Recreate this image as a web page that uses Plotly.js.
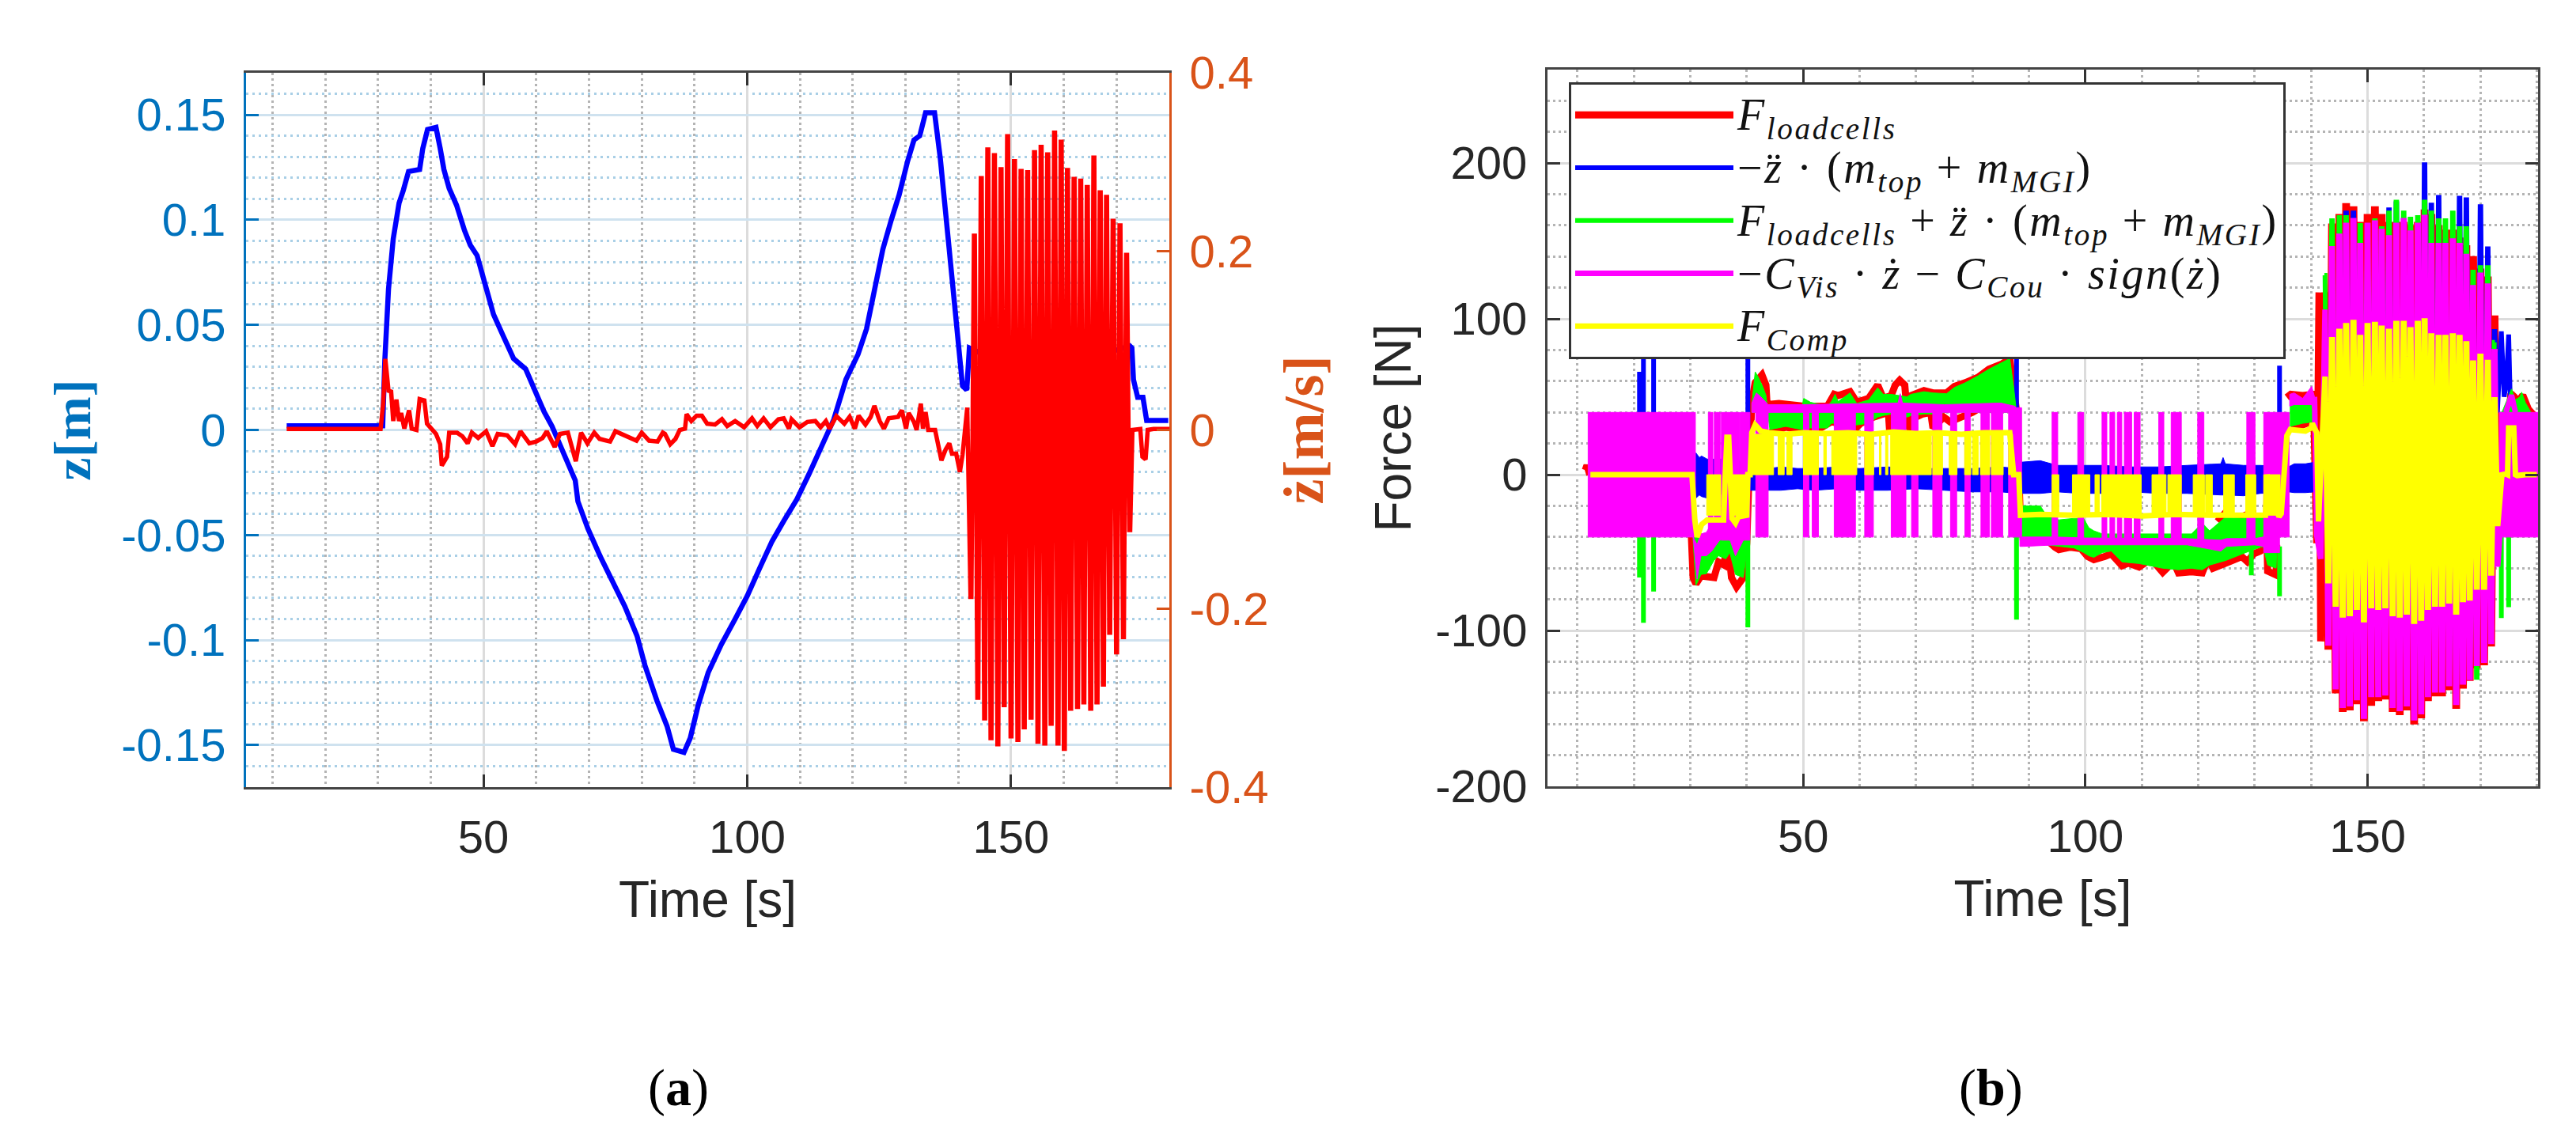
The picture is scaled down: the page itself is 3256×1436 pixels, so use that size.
<!DOCTYPE html>
<html><head><meta charset="utf-8">
<script src="https://cdn.plot.ly/plotly-3.0.1.min.js"></script>
<style>html,body{margin:0;padding:0;background:#fff}#chart{width:3256px;height:1436px}
.legendtext{font-size:56px !important;letter-spacing:2.6px}</style></head>
<body><div id="chart"></div>
<script>
// ---------- panel (a): position ----------
const posT=[12.7,30.9,31.3,32,32.9,34,34.8,35.8,37.9,38.5,39.4,41,41.8,42.5,43.5,44.9,46.4,47.5,48.8,50.3,51.9,53.7,55.7,58,59.6,61.5,63,65.1,67.4,67.9,69.8,72.1,74.4,76.8,79.1,80.6,82.9,84.8,86,88,89.2,90.7,92.6,95.1,97.7,100,102.4,104.7,107,109.4,111.7,114,116.4,118.7,121,122.6,124.2,125.7,127.3,128.8,130.4,131.6,132.7,133.8,135.5,136.6,138.2,139.7,140.8,141.6,142.1,150,160,172.5,172.9,173.2,174,175,175.7,179.8];
const posZ=[.002,.002,.033,.067,.091,.108,.114,.123,.124,.134,.143,.144,.134,.124,.115,.107,.095,.088,.083,.069,.055,.045,.034,.029,.019,.0086,.0017,-.01,-.024,-.034,-.047,-.06,-.072,-.084,-.098,-.112,-.129,-.141,-.152,-.1535,-.1466,-.131,-.1155,-.102,-.09,-.079,-.0655,-.053,-.043,-.033,-.021,-.0086,.005,.024,.036,.048,.069,.086,.1,.112,.128,.138,.14,.151,.151,.129,.088,.047,.021,.019,.039,.03,.03,.04,.039,.024,.0155,.0155,.0045,.0045];
// ---------- panel (a): velocity, slow parts ----------
const velBeforeT=[12.7,30.5,31,31.4,32,32.5,32.9,33.5,34,34.4,35,35.9,36.4,37.3,37.9,38.8,39.3,40,41,41.8,42.1,43.1,43.5,45,46,47,47.8,49,50.5,51.7,52.7,54.5,56,57,57.7,58.7,60,61.2,62,63.5,64.5,66,67.5,68.5,69.7,71,72,74,75,77,79,80,81.4,83,84,84.4,85.4,86.4,87.2,88.2,88.5,89.4,90.4,91.4,92.4,93.9,95.2,96.2,97.7,99.4,100.9,101.9,103.1,104.4,105.9,106.9,107.9,108.4,109.9,111.4,112.9,113.9,114.9,115.6,116.9,118.4,119.4,120.4,121.1,122.4,123.4,124.1,125.1,125.9,126.8,128.6,129.3,130.1,130.6,131.6,132.1,132.9,133.3,133.8,134.3,135.6,136.8,137.6,138.3,138.8,139.6,140.3,140.8,141.3,141.7];
const velBeforeV=[.001,.001,.03,.0796,.044,.043,.01,.034,.01,.019,.0015,.022,.0015,0,.0345,.033,.007,.0015,-.0044,-.016,-.04,-.03,-.003,-.003,-.007,-.015,-.003,-.009,-.0015,-.018,-.0044,-.006,-.016,-.0015,-.007,-.015,-.013,-.009,-.0015,-.019,-.0044,-.003,-.035,-.003,-.015,-.003,-.01,-.013,-.0015,-.007,-.012,-.003,-.012,-.013,-.003,-.0044,-.016,-.01,0,.0015,.0177,.01,.016,.016,.007,.006,.012,.0044,.01,.003,.013,.0044,.013,.003,.012,.013,.0015,.012,.003,.009,.01,.003,.01,.0015,.0156,.007,.0147,.0015,.016,.006,.0147,.027,.01,.0015,.013,.0147,.022,.0015,.019,.009,0,.0295,.0015,.02,0,0,-.034,-.022,-.015,-.0265,-.0265,-.047,-.028,.0015,.025];
const velAfterT=[173,174.5,174.9,175.5,175.9,177,180];
const velAfterV=[0,.001,-.03,-.033,0,.001,.001];
// panel (a): velocity oscillation extremes
const oscTroughT=[142.4,143.7,145,146.2,147.5,148.7,150,151.3,152.5,153.8,155.1,156.4,157.6,158.9,160.1,161.3,162.6,163.8,165.1,166.3,167.5,168.7,170,171.3,172.5];
const oscTroughV=[-.187,-.3,-.323,-.345,-.352,-.308,-.343,-.347,-.333,-.322,-.349,-.351,-.329,-.351,-.357,-.312,-.31,-.305,-.312,-.305,-.285,-.227,-.249,-.232,-.112];
const oscPeakT=[143.05,144.35,145.6,146.85,148.1,149.35,150.65,151.9,153.15,154.45,155.7,156.95,158.25,159.5,160.7,161.95,163.2,164.45,165.7,166.9,168.1,169.35,170.65,171.9];
const oscPeakV=[.2176,.282,.314,.3076,.292,.329,.301,.29,.2886,.311,.317,.3085,.333,.3226,.291,.281,.279,.272,.305,.266,.261,.234,.229,.196];
// ---------- panel (b): burst extremes (same instants as the oscillation) ----------
const redBurstTop=[117,159,165,172,170,160,165,170,165,160,160,160,158,160,168,165,158,155,155,150,145,138,130,125,100];
const redBurstBot=[-110,-138,-150,-149,-145,-156,-146,-143,-142,-150,-152,-149,-158,-154,-143,-140,-140,-136,-148,-135,-130,-122,-120,-108];
const blueBurstTop=[70,120,130,168,168,140,140,150,140,170,174,150,150,150,199,173,178,150,150,177.5,176.5,120,172,145,92];
const blueBurstBot=[-74,-100,-120,-125,-120,-130,-120,-118,-118,-125,-125,-122,-130,-128,-118,-115,-115,-112,-120,-110,-108,-105,-100,-90];
const greenBurstTop=[128,163,165,165,150,160,150,163,158,168,175,168,164,165,175,168,163,163,168,158,158,130,133,133,85];
const greenBurstBot=[-105,-130,-140,-140,-138,-148,-136,-135,-135,-142,-145,-140,-150,-146,-136,-132,-132,-128,-140,-128,-128,-130,-112,-100];
const magBurstTop=[106,145,153,160,163,147,160,161.5,156,152,160,163,155,160,165,147,147,147,150,147,140,120,128,121,79];
const magBurstBot=[-108,-136,-148,-147,-143,-155,-141,-141,-140,-148,-150,-147,-156,-152,-141,-138,-138,-134,-146,-133,-130,-121,-119,-107];
const yelBurstTop=[63,86.6,92,95.6,97.7,88,95.6,96.4,94,92,97,97,93,97,98.7,89,88,88,89,88,84,71.6,76,72,48];
const yelBurstBot=[-68,-83,-90,-89,-85,-93,-84,-85,-84,-89,-90,-88,-94,-92,-85,-83,-83,-81,-88,-80,-79,-72,-72,-63];
// ---------- panel (b): red, outside the burst ----------
const redLeadT=[11.4,11.7,12.2,null,30.2,30.5,31,31.9,34.2,35,36,36.6,37.3,38.2,39.4,40,40.4,40.9,41.5,42.7,43.4,43.6,45.7,50.1,54.3,55.5,56.2,58.3,59.5,61.6,63.2,64.2,65.6,66.3,67.1,68,68.2,69.1,71.4,73,75.4,76.8,78.7,81,82.9,85.2,86.6,87.8,null,44.1,46.9,49.7,52.9,55,59.5,60.2,62.5,65.1,65.3,68.4,68.9,69.4,71.2,72.6,73,74.9,76,80,83.3,85.7,86.4,87.8,88.4,89,89.9,93.1,94.6,95.3,97.4,99.2,100.4,101.5,103.4,104.6,106.5,107.6,109.5,110.9,112.3,113.7,115.6,116.5,118.8,120.7,121.7,122.6,124.9,127.7,128.7,129.8,131,132.2,132.3,133.8,133.9,null,123.4,124.9,126,127.7,129,130.3,null,135.7,136.4,138.5,140.4,141,141.4,141.7];
const redLeadF=[3,6,0,null,-40,-66,-70,-65,-66,-56,-58,-40,-66,-72,-66,-44,0,47,59,64,57.5,45,45.7,44,44,51.6,50.8,53.3,46.5,49,57.5,49,50.8,57.5,60.6,57.5,49,50.8,54,52.5,52.5,56.7,59,62.6,67.7,71,74.5,40.6,null,27,30.5,29,29.6,34,30.5,33,37,40,29,35.5,29,36,39,40,30,37,34,40,47,52.5,57.5,40.6,-20,-39,-40.6,-41.5,-46.5,-48,-46.5,-47.4,-52.5,-54.5,-52.5,-50.8,-58.4,-56.7,-59.2,-55.8,-56.7,-62.6,-55.8,-63,-62.3,-63,-54,-60,-56.7,-52.5,-55.8,-50.8,-49,-45.7,-61.8,-64.3,-45,null,-30,-24,-32,-27,-25,-25,null,49.6,51.6,50.8,51.6,-44,117,-107];
const redInnerT=[136.4,138.5,140.4];
const redInnerF=[31,32,34.5];
const redTrailT=[173,174.9,175.4,176,176.7,177.5,178.5,179.5,180.5,180.85];
const redTrailF=[-45,40,52,50,47,51,42,38,14,10.3];
// ---------- panel (b): blue ----------
const blueLeadT=[21,21,21,null,21.7,21.7,21.7,null,23.5,23.5,23.5,null,40.2,40.2,40.2,null,87.8,87.8,87.8,null,134.4,134.4,134.4,null,141.3,141.6];
const blueLeadF=[0,66,0,null,0,95,0,null,0,90,0,null,0,95,0,null,0,95,0,null,0,70,0,null,0,-50];
const blueTrailT=[173,173.7,174.2,174.6,175,175.4,175.6];
const blueTrailF=[40,92,50,60,90,45,0];
const blueBandT=[31,31.6,32,33,36,40.5,44,46,49,52,56,60,65,70,75,80,85,88,88.5,92,95,99,103,108,113,118,124,124.4,124.8,128,131,136,137,139,140.6];
const blueBandHi=[14,11,12,10,10,8,4,5,4,4,5,4,5,4,4,4,5,4,8,9,6,6,6,5,5,6,7,11,7,6,6,5,7,7,8];
const blueBandLo=[-15,-13,-14,-15,-12,-10,-10,-10,-9,-10,-9,-10,-10,-9,-10,-11,-11,-12,-12,-12,-11,-12,-12,-11,-12,-12,-13,-13,-13,-13.5,-12,-11,-11.5,-11.5,-11];
// ---------- panel (b): green ----------
const greenSpikeT=[21,21,21,null,21.7,21.7,21.7,null,23.5,23.5,23.5,null,40.2,40.2,40.2,null,87.8,87.8,87.8,null,129.4,129.4,129.4,null,134.4,134.4,134.4,null,173.7,173.7,173.7,null,175,175,175];
const greenSpikeF=[-38,-66,-38,null,-38,-95,-38,null,-38,-75,-38,null,-38,-98,-38,null,-38,-93,-38,null,-46,-64.6,-46,null,-46,-78,-46,null,-38,-92,-38,null,-38,-85,-38];
const greenB_T=[30.5,31,31.9,32.85,34.2,35,36.3,37,38,39.4,40.3];
const greenB_Hi=[-40,-38,-38,-38,-38,-38,-38,-38,-38,-38,-38];
const greenB_Lo=[-42,-71,-64,-63.5,-55,-52,-54,-50,-64,-66,-40];
const greenC_T=[40.9,41.3,41.5,42,42.9,43.4,43.7,44.1,46.9,49.7,50.1,51.3,54.3,55,55.66,56.2,58.3,59.5,61.6,63.2,64.2,65.6,68.4,69.1,71.4,73,75.4,76.8,78.7,81,82.9,85.2,86.6,87.3,87.8];
const greenC_Hi=[45,60,66,63,56,51,42,40,40,42,49,46.5,44,47,51.6,47,52.5,45.7,48,55.8,51.6,51.6,50,51.6,53.3,52.5,52,56,59,63.5,67.7,72,74.5,56,40];
const greenC_Lo=[40,40,40,40,40,40,40,29,31,29,29,30,30,33,33,32,31,32,33,37,38,39,37,38,39,39,40,40.6,40,40,40,40,40,40,40];
const greenD_T=[88.4,89,92,93.1,95.3,98,99.7,100.6,101.5,103,104.6,106.5,109.5,113.7,116.5,118.8,120.7,122,124.9,127.7,129.8,131.5,132.3,133.8,134];
const greenD_Hi=[-20,-20,-20,-26,-29,-28,-28,-34,-36,-38,-38,-38,-38,-38,-38,-38,-31,-36,-27,-28,-27,-25,-30,-30,-38];
const greenD_Lo=[-42,-43,-44,-45,-46,-47,-50,-52,-53,-50,-49,-56,-57,-60,-61,-60,-61,-58,-55,-51,-48,-46,-58,-60,-40];
const greenF_T=[136.3,138.5,140.6];
const greenF_Hi=[45,45,47];
const greenF_Lo=[31,33,34];
const greenTrailT=[173.8,175,175.5,176.2,177,177.3,178,178.8,179];
const greenTrailHi=[40,50,55,48,50,53,46,41,40];
const greenTrailLo=[30,30,30,30,30,30,30,30,30];
// ---------- panel (b): magenta ----------
const magSolidStart=[11.9,131.6,134.4,173.4];
const magSolidEnd=[30.9,134.4,136.1,180.5];
const magSolidLow=[-40,-50,-40,-40];
const magDownStart=[41.6,50.05,51.6,55.5,60.9,65.6,69.2,72.96,76.1,78.66,81.5,83.34,86.4];
const magDownEnd=[43.8,51,52.7,59.26,62.44,68.2,70.35,74.6,77.2,79.6,83,85.35,88.7];
const magUpStart=[33.2,34.25,35.5,38.83,94.1,98.65,102.95,104.35,105.66,106.9,108.65,113,115.2,119.9,128.6];
const magUpEnd=[34,35.3,38.7,40.56,95.1,99.7,103.8,105.2,106.45,108.2,109.7,113.9,117,121,130.06];
const magC_T=[40.9,41.7,42.5,43.3,43.8,50,60,66.8,67.2,67.6,75,85,87.5,88.3];
const magC_Hi=[46,52.5,50,47,45,45,45.5,46,52,46,45,46,44,40];
const magC_Lo=[40,40,40,40,40,40,40,40,40,40,40,40,40,40];
const magD_T=[88.4,89,95,100,110,118,124,125,130,131.5,132.4];
const magD_Hi=[-40,-40,-40,-40.6,-41,-41,-42,-41,-41,-40,-40];
const magD_Lo=[-46,-46,-45,-45,-45,-45,-49,-46,-45,-46,-50];
const magB_T=[30.5,31.2,31.9,32.85,33.8,35.2,36.3,37.05,38,39.4,40.3];
const magB_Hi=[-40,-45,-38,-37,-31,-27,-30,-33,-34,-26,-30];
const magB_Lo=[-41,-67,-52,-52,-49,-42,-40,-42,-52,-42,-39];
const magF_T=[136.2,137,138.5,140.1,140.6];
const magF_Hi=[51.6,52.5,49,56.7,50];
const magF_Lo=[44,45,45,45,40];
const magLeadT=[140.6,141,141.7];
const magLeadF=[50,-39,-54];
const magTrailT=[173.05,173.6,null,174.5,175.5,176.2];
const magTrailF=[-59,-30,null,40,51,40];
// ---------- panel (b): yellow ----------
const yelLeadT=[12.3,30.3,30.8,31.2,32,33,35.4,35.9,36.2,36.5,36.8,37.1,37.4,38,38.5,40,40.2,40.6,40.9,41.5,42.5,44,47,50,54,58,62,66,70,74,78,82,86.6,87.3,88.2,88.5,92,98,104,110,116,122,128,131.9,132.2,134.3,134.7,135.2,135.7,136.3,138,139,140,140.2,140.7,141,141.3];
const yelLeadF=[0,0,-29,-40,-32,-29,-29,-29,0,24,24,0,-28,-31,-27,-26,0,0,27,32,28,27,26,27,26.5,27,26,27.5,26.5,27,26,27,27,0,0,-26,-25.5,-26,-25.5,-26.5,-25.5,-26,-25.5,-26,0,-27,-25,0,25,29,28,28,30,33,29,27,-30];
const yelTrailT=[173.05,173.8,174.5,174.8,175,175.9,176.2,176.5,178,180];
const yelTrailF=[-33,0,0.5,0,30,30,0,-0.5,0,0];
const yelUpStart=[40.9,45.56,47.1,50.05,53.65,55.05,60.9,63.5,64.6,65.5,72.96,75.86,78.6,80,81.4,83.34,86.4];
const yelUpEnd=[44.76,46.64,48.04,52.7,54.1,59.5,62.5,63.8,65,72.7,74.7,77.26,79.7,81,83.06,85.44,87.1];
const yelDownStart=[32.9,37.05,94.1,97.7,101.7,102.9,111.8,114.6,119.1,121.3,124.5,128.4,131.6];
const yelDownEnd=[35.4,40.1,95.3,100.8,102.5,109.9,114.3,117,121.1,122.5,126.4,130.2,134.5];
// ---------- axis ticks ----------
const xTicks=[50,100,150];
const zTicks=[-0.15,-0.1,-0.05,0,0.05,0.1,0.15];
const zLabels=['-0.15','-0.1','-0.05','0','0.05','0.1','0.15'];
const vTicks=[-0.4,-0.2,0,0.2,0.4];
const vLabels=['-0.4','-0.2','0','0.2','0.4'];
const fTicks=[-200,-100,0,100,200];
const fLabels=['-200','-100','0','100','200'];

// ---------- helpers ----------
function zig(aT,aV,bT,bV,w){const x=[],y=[];
  for(let i=0;i<aT.length;i++){x.push(aT[i]-w,aT[i]+w);y.push(aV[i],aV[i]);
    if(i<bT.length){x.push(bT[i]-w,bT[i]+w);y.push(bV[i],bV[i]);}}
  return {x,y};}
function poly(t,hi,lo){
  return {x:[...t,...[...t].reverse(),t[0],null],y:[...hi,...[...lo].reverse(),hi[0],null]};}
function rects(s,e,lo,hi){const x=[],y=[];
  s.forEach((v,i)=>{const L=Array.isArray(lo)?lo[i]:lo;x.push(v,v,e[i],e[i],v,null);y.push(L,hi,hi,L,L,null);});
  return {x,y};}
function join(...parts){return {x:parts.flatMap(p=>p.x),y:parts.flatMap(p=>p.y)};}
const W=0.08, w2=0.06;
const velZig=zig(oscTroughT,oscTroughV,oscPeakT,oscPeakV,W);
const bz=(top,bot)=>zig(oscTroughT,top,oscPeakT,bot,w2);
const P=(x,y)=>({x,y});
const GAP={x:[null],y:[null]};

const redPath=join(P(redLeadT,redLeadF),bz(redBurstTop,redBurstBot),P(redTrailT,redTrailF),GAP,P(redInnerT,redInnerF));
const bluePath=join(P(blueLeadT,blueLeadF),bz(blueBurstTop,blueBurstBot),P(blueTrailT,blueTrailF));
const greenPath=join(P(greenSpikeT,greenSpikeF),GAP,bz(greenBurstTop,greenBurstBot));
const magPath=join(P(magLeadT,magLeadF),bz(magBurstTop,magBurstBot),P(magTrailT,magTrailF));
const yelPath=join(P(yelLeadT,yelLeadF),bz(yelBurstTop,yelBurstBot),P(yelTrailT,yelTrailF));

const blueFill=poly(blueBandT,blueBandHi,blueBandLo);
const greenFill=join(poly(greenB_T,greenB_Hi,greenB_Lo),poly(greenC_T,greenC_Hi,greenC_Lo),poly(greenD_T,greenD_Hi,greenD_Lo),poly(greenF_T,greenF_Hi,greenF_Lo),poly(greenTrailT,greenTrailHi,greenTrailLo));
const magFill=join(rects(magSolidStart,magSolidEnd,magSolidLow,40),rects(magDownStart,magDownEnd,-40,43),rects(magUpStart,magUpEnd,-42,40),
  poly(magC_T,magC_Hi,magC_Lo),poly(magD_T,magD_Hi,magD_Lo),poly(magB_T,magB_Hi,magB_Lo),poly(magF_T,magF_Hi,magF_Lo));
const yelFill=join(rects(yelUpStart,yelUpEnd,0,26),rects(yelDownStart,yelDownEnd,0,-26));

const line=(o,name,color,width)=>({type:'scatter',mode:'lines',x:o.x,y:o.y,name,xaxis:'x3',yaxis:'y3',cliponaxis:false,
  line:{color,width},showlegend:true,legendgroup:name,hoverinfo:'skip'});
const fill=(o,color,group)=>({type:'scatter',mode:'lines',x:o.x,y:o.y,xaxis:'x3',yaxis:'y3',cliponaxis:false,fill:'toself',fillcolor:color,
  line:{color,width:1},showlegend:false,legendgroup:group,hoverinfo:'skip'});

const N=[
 '<i>F<sub>loadcells</sub></i>',
 '−<i>z̈</i> · (<i>m<sub>top</sub></i> + <i>m<sub>MGI</sub></i>)',
 '<i>F<sub>loadcells</sub></i> + <i>z̈</i> · (<i>m<sub>top</sub></i> + <i>m<sub>MGI</sub></i>)',
 '−<i>C<sub>Vis</sub></i> · <i>ż</i> − <i>C<sub>Cou</sub></i> · <i>sign</i>(<i>ż</i>)',
 '<i>F<sub>Comp</sub></i>'];

const traces=[
 {type:'scatter',mode:'lines',x:posT,y:posZ,xaxis:'x',yaxis:'y',line:{color:'#0000ff',width:6.5},showlegend:false,hoverinfo:'skip'},
 {type:'scatter',mode:'lines',x:[...velBeforeT,...velZig.x,...velAfterT],y:[...velBeforeV,...velZig.y,...velAfterV],xaxis:'x',yaxis:'y2',line:{color:'#ff0000',width:5.5},showlegend:false,hoverinfo:'skip'},
 line(redPath,N[0],'#ff0000',9),
 line(bluePath,N[1],'#0000ff',6), fill(blueFill,'#0000ff',N[1]),
 fill(greenFill,'#00ff00',N[2]), line(greenPath,N[2],'#00ff00',6),
 fill(magFill,'#ff00ff',N[3]), line(magPath,N[3],'#ff00ff',7),
 fill(yelFill,'#ffff00',N[4]), line(yelPath,N[4],'#ffff00',7)
];

const tickFont={family:'"Liberation Sans",Arial,sans-serif',size:58,color:'#262626'};
const titleFont={family:'"Liberation Sans",Arial,sans-serif',size:64,color:'#262626'};
const xAxis=(dom,rng,anchor,titleStand)=>({domain:dom,range:rng,anchor,tickmode:'array',tickvals:xTicks,ticktext:xTicks.map(String),
  ticks:'inside',ticklen:16,tickwidth:3,tickcolor:'#333',showline:true,linecolor:'#444',linewidth:3,mirror:'ticks',
  tickfont:tickFont,ticklabelstandoff:10,showgrid:true,gridcolor:'#dcdcdc',gridwidth:3,zeroline:false,
  minor:{tick0:0,dtick:10,showgrid:true,gridcolor:'#b4b4b4',gridwidth:3,griddash:'3px,4px',ticks:''},
  title:{text:'Time [s]',font:titleFont,standoff:titleStand}});

const layout={width:3256,height:1436,margin:{l:0,r:0,t:0,b:0},paper_bgcolor:'#fff',plot_bgcolor:'#fff',showlegend:true,
 xaxis:xAxis([311/3256,1478/3256],[5,180],'y',26),
 yaxis:{domain:[(1436-995)/1436,(1436-92)/1436],range:[-0.17,0.17],anchor:'x',tickmode:'array',tickvals:zTicks,ticktext:zLabels,
  ticks:'inside',ticklen:16,tickwidth:3,tickcolor:'#0072BD',showline:true,linecolor:'#0072BD',linewidth:3,
  tickfont:{...tickFont,color:'#0072BD'},ticklabelstandoff:11,showgrid:true,gridcolor:'#cfe2ef',gridwidth:3,zeroline:false,
  minor:{tick0:0,dtick:0.01,showgrid:true,gridcolor:'#a9cfe6',gridwidth:3,griddash:'3px,5px',ticks:''},
  title:{text:'<b>z[m]</b>',font:{family:'"Liberation Serif",serif',size:66,color:'#0072BD'},standoff:18}},
 yaxis2:{domain:[(1436-995)/1436,(1436-92)/1436],range:[-0.4,0.4],overlaying:'y',side:'right',anchor:'x',tickmode:'array',tickvals:vTicks,ticktext:vLabels,
  ticks:'inside',ticklen:16,tickwidth:3,tickcolor:'#D95319',showline:true,linecolor:'#D95319',linewidth:3,
  tickfont:{...tickFont,color:'#D95319'},ticklabelstandoff:11,showgrid:false,zeroline:false,
  title:{text:'<b>ż[m/s]</b>',font:{family:'"Liberation Serif",serif',size:72,color:'#D95319'},standoff:20}},
 xaxis3:xAxis([1956/3256,3208/3256],[4.7,180.2],'y3',26),
 yaxis3:{domain:[(1436-994)/1436,(1436-88)/1436],range:[-200,260],anchor:'x3',tickmode:'array',tickvals:fTicks,ticktext:fLabels,
  ticks:'inside',ticklen:16,tickwidth:3,tickcolor:'#333',showline:true,linecolor:'#444',linewidth:3,mirror:'ticks',
  tickfont:tickFont,ticklabelstandoff:11,showgrid:true,gridcolor:'#dcdcdc',gridwidth:3,zeroline:false,
  minor:{tick0:0,dtick:20,showgrid:true,gridcolor:'#b4b4b4',gridwidth:3,griddash:'3px,4px',ticks:''},
  title:{text:'Force [N]',font:titleFont,standoff:10}},
 legend:{x:1983/3256,xanchor:'left',y:(1436-104)/1436,yanchor:'top',bgcolor:'#fff',bordercolor:'#333',borderwidth:3,
  font:{family:'"Liberation Serif",serif',size:49,color:'#111'},itemwidth:200,tracegroupgap:0,traceorder:'normal',itemclick:false,itemdoubleclick:false},
 annotations:[
  {xref:'paper',yref:'paper',x:857/3256,y:1-1375/1436,xanchor:'center',yanchor:'middle',showarrow:false,text:'(<b>a</b>)',font:{family:'"Liberation Serif",serif',size:66,color:'#000'}},
  {xref:'paper',yref:'paper',x:2516/3256,y:1-1375/1436,xanchor:'center',yanchor:'middle',showarrow:false,text:'(<b>b</b>)',font:{family:'"Liberation Serif",serif',size:66,color:'#000'}}
 ]};
Plotly.newPlot('chart',traces,layout,{staticPlot:true,displayModeBar:false});
</script></body></html>
